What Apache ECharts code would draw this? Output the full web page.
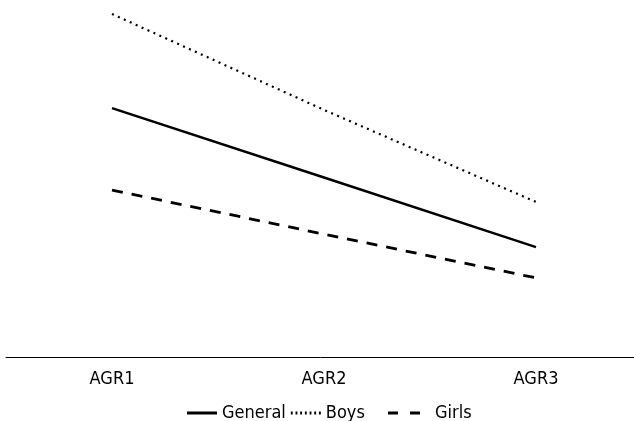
<!DOCTYPE html>
<html><head><meta charset="utf-8">
<script src="https://cdn.jsdelivr.net/npm/echarts@6/dist/echarts.min.js"></script>
<style>html,body{margin:0;padding:0;background:#fff}#c{width:634px;height:421px}</style>
</head><body><div id="c"></div>
<script>
var categories = ['AGR1', 'AGR2', 'AGR3'];
var general = [7.11, 5.13, 3.14];
var boys = [9.80, 7.06, 4.43];
var girls = [4.77, 3.51, 2.26];

var chart = echarts.init(document.getElementById('c'));
var font = '"DejaVu Sans Condensed", sans-serif';
var dots = '';
for (var i = 0; i < 7; i++) { dots += 'M' + (i * 5) + ',0h2v3h-2Z'; }
var legendText = {color: '#000', fontSize: 18, fontFamily: font};
chart.setOption({
  animation: false,
  grid: {left: 6, width: 636, top: 7, bottom: 64, containLabel: false, outerBoundsMode: 'none'},
  xAxis: {
    type: 'category', data: categories, boundaryGap: true,
    axisLine: {lineStyle: {color: '#000', width: 1}},
    axisTick: {show: false},
    axisLabel: {color: '#000', fontSize: 18, fontFamily: font, margin: 13}
  },
  yAxis: {type: 'value', min: 0, max: 10, show: false, splitLine: {show: false}},
  legend: [{
    top: 399, left: 182, itemGap: 5, itemWidth: 30, itemHeight: 3,
    textStyle: legendText, itemStyle: {color: '#000'},
    data: [
      {name: 'General', icon: 'path://M0,0H30V3H0Z', symbolKeepAspect: false},
      {name: 'Boys', icon: 'path://' + dots, symbolKeepAspect: false}
    ]
  }, {
    top: 399, left: 383, itemWidth: 32, itemHeight: 3,
    textStyle: legendText, itemStyle: {color: '#000'},
    data: [
      {name: 'Girls', icon: 'path://M0,0H10V3H0Z M22,0H32V3H22Z', symbolKeepAspect: false,
       textStyle: {padding: [0, 0, 0, 10]}}
    ]
  }],
  series: [
    {name: 'General', type: 'line', data: general, symbol: 'none',
     lineStyle: {color: '#000', width: 2.5, type: 'solid'}, itemStyle: {color: '#000'}},
    {name: 'Boys', type: 'line', data: boys, symbol: 'none',
     lineStyle: {color: '#000', width: 2.2, type: [2, 4.5]}, itemStyle: {color: '#000'}},
    {name: 'Girls', type: 'line', data: girls, symbol: 'none',
     lineStyle: {color: '#000', width: 2.8, type: [11, 9]}, itemStyle: {color: '#000'}}
  ]
});
</script></body></html>
